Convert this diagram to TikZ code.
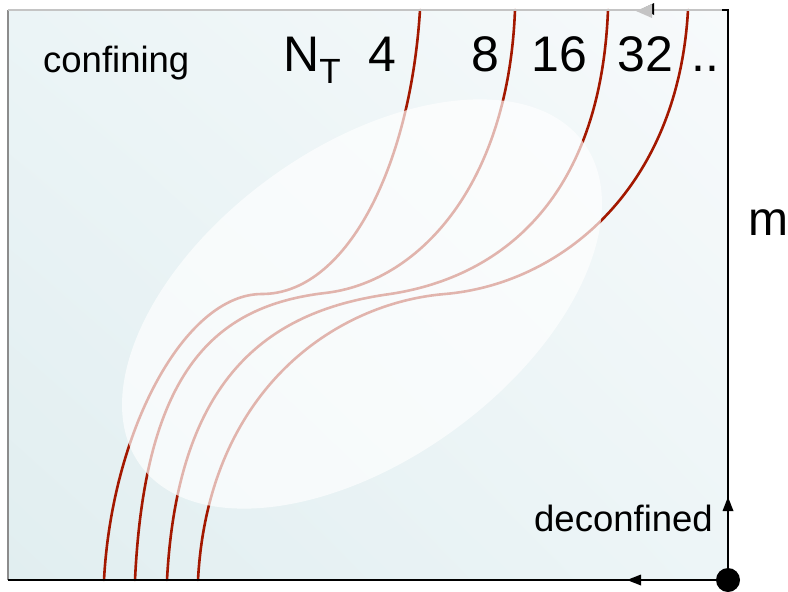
\documentclass[tikz,border=0pt]{standalone}
\usepackage{fontspec}
\setmainfont{Liberation Sans}
\usetikzlibrary{shadings}
\definecolor{curvered}{HTML}{A31800}
\definecolor{bgA}{HTML}{E1EEF0}
\definecolor{bgB}{HTML}{EBF4F6}
\definecolor{bgC}{HTML}{EDF5F7}
\definecolor{bgD}{HTML}{F7FAFB}
\definecolor{topgray}{HTML}{C4C4C4}
\definecolor{leftgray}{HTML}{8C8C8C}
\begin{document}
\begin{tikzpicture}[x=1pt,y=-1pt,
  lbl/.style={anchor=base west, inner sep=0pt, font=\fontsize{36.5}{40}\selectfont},
  bignum/.style={anchor=base west, inner sep=0pt, font=\fontsize{50}{56}\selectfont},
  curve/.style={draw=curvered, line width=2.6pt, line cap=round},
  veil/.style={fill=white, opacity=0.68}]
\useasboundingbox (0,0) rectangle (788,592);
% background panel
\shade[lower left=bgA, upper left=bgB, lower right=bgC, upper right=bgD] (8,10) rectangle (728,580);
% curves
\draw[curve] (104,580) .. controls (112,430) and (185,294) .. (262,294)
                       .. controls (345,294) and (410,170) .. (420,10);
\draw[curve] (135,580) .. controls (145,370) and (215,306) .. (325,293)
                       .. controls (415,283) and (508,190) .. (515,10);
\draw[curve] (167,580) .. controls (178,370) and (275,310) .. (390,294)
                       .. controls (490,279) and (600,210) .. (608,10);
\draw[curve] (198,580) .. controls (208,390) and (335,303) .. (445,294)
                       .. controls (560,284) and (678,190) .. (688,10);
% translucent ellipse
\fill[veil, rotate around={36:(362,304)}] (362,304) ellipse [x radius=274, y radius=156];
% frame
\coordinate (tl) at (8,10);
\coordinate (tr) at (728,10);
\coordinate (bl) at (8,580);
\coordinate (br) at (728,580);
\draw[leftgray, line width=1.6pt] (tl) -- (bl);
\draw[topgray, line width=2.4pt] (tl) -- (tr);
\fill (642,9) -- (654,3) -- (654,15) -- cycle;
\fill[topgray] (636,11) -- (652,4) -- (652,18) -- cycle;
\draw[black, line width=1.6pt] (722,10) -- (tr) -- (br);
\draw[black, line width=2.4pt] (bl) -- (br);
\fill (728,497) -- (722.5,511) -- (733.5,511) -- cycle;
\fill (627,580) -- (641,574.5) -- (641,585.5) -- cycle;
\fill (br) circle [radius=12];
% labels
\node[lbl] (conf) at (43,72) {confining};
\node[bignum] (nt) at (283,71) {N\raisebox{-12pt}{\fontsize{35}{35}\selectfont T}};
\node[bignum] (n4) at (368,71) {4};
\node[bignum] (n8) at (471,71) {8};
\node[bignum] (n16) at (531,71) {16};
\node[bignum] (n32) at (617,71) {32};
\node[bignum] (dots) at (691,71) {..};
\node[anchor=base west, inner sep=0pt, font=\fontsize{48}{52}\selectfont] (m) at (748,235) {m};
\node[lbl] (deconf) at (534,531) {deconfined};
\end{tikzpicture}
\end{document}
